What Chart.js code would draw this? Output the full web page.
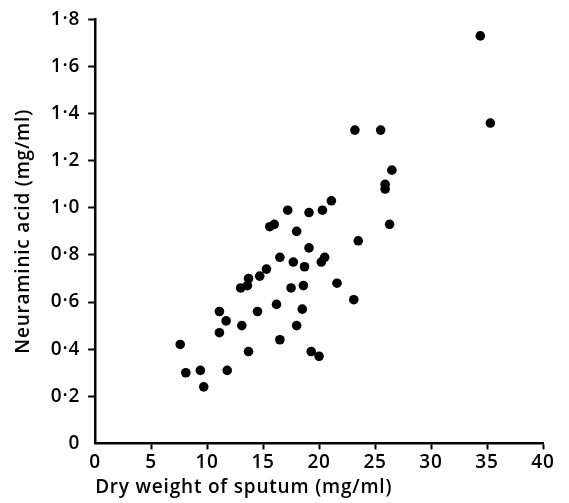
<!DOCTYPE html>
<html lang="en">

<head>
    <meta charset="UTF-8">
    <title>Neuraminic acid vs dry weight of sputum</title>
    <script src="https://cdn.jsdelivr.net/npm/chart.js"></script>
    <style>
        body {
            margin: 0;
            background: #fff;
        }

        #wrap {
            width: 569px;
            height: 503px;
        }
    </style>
</head>

<body>
    <div id="wrap">
        <canvas id="scatter" width="569" height="503"></canvas>
    </div>

    <script>
        // dry weight of sputum (mg/ml)
        var dryWeight = [
            21.1, 17.2, 19.1, 20.3, 16.0, 15.6, 18.0, 19.1, 16.5, 17.7,
            18.7, 20.5, 20.2, 15.3, 14.7, 13.7, 13.0, 13.6, 17.5, 18.6,
            21.6, 11.1, 14.5, 16.2, 18.5, 11.7, 13.1, 18.0, 11.1, 16.5,
            7.6, 13.7, 19.3, 20.0, 8.1, 9.4, 11.8, 9.7, 34.4, 35.3,
            23.2, 25.5, 26.5, 25.9, 25.9, 26.3, 23.5, 23.1
        ];
        // neuraminic acid (mg/ml)
        var neuraminic = [
            1.03, 0.99, 0.98, 0.99, 0.93, 0.92, 0.90, 0.83, 0.79, 0.77,
            0.75, 0.79, 0.77, 0.74, 0.71, 0.70, 0.66, 0.67, 0.66, 0.67,
            0.68, 0.56, 0.56, 0.59, 0.57, 0.52, 0.50, 0.50, 0.47, 0.44,
            0.42, 0.39, 0.39, 0.37, 0.30, 0.31, 0.31, 0.24, 1.73, 1.36,
            1.33, 1.33, 1.16, 1.10, 1.08, 0.93, 0.86, 0.61
        ];
        var xTicks = [0, 5, 10, 15, 20, 25, 30, 35, 40];
        var yTicks = [0, 0.2, 0.4, 0.6, 0.8, 1.0, 1.2, 1.4, 1.6, 1.8];

        var points = dryWeight.map(function (x, i) {
            return { x: x, y: neuraminic[i] };
        });

        var textFont = { family: 'Open Sans', size: 19, weight: 600 };

        // old-style decimal point, e.g. 1·8
        function fmt(v) {
            if (v === 0) return '0';
            return v.toFixed(1).replace('.', '\u00b7');
        }

        function hideZeroTick(c) {
            return c.tick && c.tick.value === 0 ? 'rgba(0,0,0,0)' : '#000';
        }

        // spaced-out lettering; canvas resizes reset it, so set it before layout and drawing
        var spacing = {
            id: 'spacing',
            beforeUpdate: function (chart) { chart.ctx.letterSpacing = '0.8px'; },
            beforeDraw: function (chart) { chart.ctx.letterSpacing = '0.8px'; }
        };

        var ctx = document.getElementById('scatter').getContext('2d');
        new Chart(ctx, {
            type: 'scatter',
            plugins: [spacing],
            data: {
                datasets: [{
                    data: points,
                    pointRadius: 4.8,
                    pointHoverRadius: 4.8,
                    pointBackgroundColor: '#000',
                    pointBorderWidth: 0
                }]
            },
            options: {
                responsive: false,
                animation: false,
                layout: { padding: { left: 12, right: 26, top: 4, bottom: 4 } },
                plugins: {
                    legend: { display: false },
                    tooltip: { enabled: false }
                },
                scales: {
                    x: {
                        min: 0,
                        max: 40,
                        afterBuildTicks: function (axis) {
                            axis.ticks = xTicks.map(function (v) { return { value: v }; });
                        },
                        border: { display: true, color: '#000', width: 2.5 },
                        grid: {
                            drawOnChartArea: false,
                            tickLength: 6,
                            tickWidth: 2,
                            tickColor: hideZeroTick
                        },
                        ticks: {
                            color: '#000',
                            font: textFont,
                            padding: 2,
                            maxRotation: 0,
                            callback: function (v) { return String(v); }
                        },
                        title: {
                            display: true,
                            align: 'start',
                            text: 'Dry weight of sputum (mg/ml)',
                            color: '#000',
                            font: textFont,
                            padding: { top: 0, bottom: 0 }
                        }
                    },
                    y: {
                        min: 0,
                        max: 1.8,
                        afterBuildTicks: function (axis) {
                            axis.ticks = yTicks.map(function (v) { return { value: v }; });
                        },
                        border: { display: true, color: '#000', width: 2.5 },
                        grid: {
                            drawOnChartArea: false,
                            tickLength: 7,
                            tickWidth: 2,
                            tickColor: hideZeroTick
                        },
                        ticks: {
                            color: '#000',
                            font: textFont,
                            padding: 8,
                            callback: function (v) { return fmt(v); }
                        },
                        title: {
                            display: true,
                            text: 'Neuraminic acid (mg/ml)',
                            color: '#000',
                            font: textFont,
                            padding: { top: 0, bottom: 8 }
                        }
                    }
                }
            }
        });
    </script>
</body>

</html>
